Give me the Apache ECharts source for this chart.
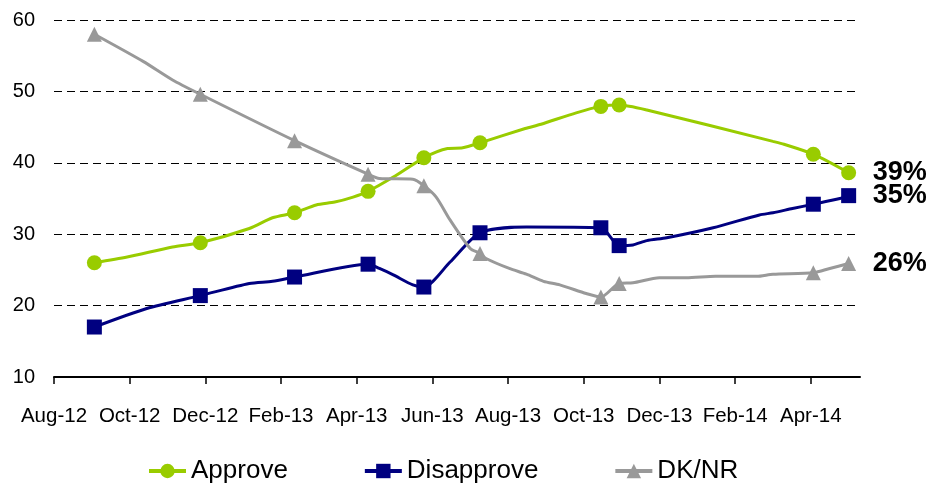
<!DOCTYPE html>
<html>
<head>
<meta charset="utf-8">
<script src="https://cdn.jsdelivr.net/npm/echarts@6/dist/echarts.min.js"></script>
<style>
  html, body { margin: 0; padding: 0; background: #fff; }
  #main { width: 933px; height: 484px; }
</style>
</head>
<body>
<div id="main"></div>
<script>
// x tick labels, one every two months starting Aug-12
const tickLabels = ['Aug-12', 'Oct-12', 'Dec-12', 'Feb-13', 'Apr-13', 'Jun-13',
    'Aug-13', 'Oct-13', 'Dec-13', 'Feb-14', 'Apr-14'];

// poll dates that get a marker
const pollDates = ['2012-09-03', '2012-11-27', '2013-02-11', '2013-04-10', '2013-05-25',
    '2013-07-09', '2013-10-15', '2013-10-30', '2014-04-03', '2014-05-01'];

const approveDates = ['2012-09-03', '2012-09-29', '2012-11-05', '2012-11-27', '2013-01-06',
    '2013-01-25', '2013-02-11', '2013-02-27', '2013-03-14', '2013-03-29', '2013-04-10',
    '2013-04-30', '2013-05-25', '2013-06-13', '2013-06-25', '2013-07-09', '2013-08-15',
    '2013-08-28', '2013-09-25', '2013-10-15', '2013-10-30', '2013-11-21', '2014-03-01',
    '2014-03-10', '2014-04-03', '2014-05-01'];
const approveValues = [26.0, 26.8, 28.2, 28.8, 30.8, 32.3, 33.0, 34.1, 34.5, 35.2, 36.0,
    38.0, 40.7, 42.0, 42.1, 42.8, 44.8, 45.4, 47.0, 47.9, 48.1, 47.4, 43.0, 42.6, 41.2, 38.6];

const disapproveDates = ['2012-09-03', '2012-10-15', '2012-11-27', '2013-01-06', '2013-01-25',
    '2013-02-11', '2013-04-10', '2013-04-19', '2013-04-30', '2013-05-16', '2013-05-25',
    '2013-06-15', '2013-07-09', '2013-08-16', '2013-10-15', '2013-10-30', '2013-11-10',
    '2013-11-21', '2013-12-07', '2014-01-14', '2014-02-19', '2014-03-01', '2014-03-17',
    '2014-04-03', '2014-04-24', '2014-05-01'];
const disapproveValues = [17.0, 19.6, 21.4, 23.1, 23.4, 24.0, 25.8, 25.2, 24.3, 22.9, 22.6,
    26.1, 30.2, 31.0, 30.9, 28.4, 28.5, 29.1, 29.5, 30.9, 32.7, 33.0, 33.6, 34.2, 35.0, 35.4];

const dknrDates = ['2012-09-03', '2012-10-12', '2012-11-05', '2012-11-27', '2013-02-11',
    '2013-04-10', '2013-04-19', '2013-05-16', '2013-05-25', '2013-06-04', '2013-06-15',
    '2013-07-01', '2013-07-09', '2013-07-14', '2013-08-02', '2013-08-16', '2013-08-30',
    '2013-09-12', '2013-10-03', '2013-10-15', '2013-10-30', '2013-11-10', '2013-12-01',
    '2013-12-23', '2014-01-16', '2014-02-17', '2014-03-01', '2014-04-03', '2014-04-16',
    '2014-05-01'];
const dknrValues = [58.0, 54.2, 51.6, 49.6, 43.1, 38.4, 37.8, 37.7, 36.8, 35.2, 32.0,
    28.0, 27.3, 26.6, 25.2, 24.4, 23.4, 22.9, 21.7, 21.2, 23.1, 23.2, 23.9,
    23.9, 24.1, 24.1, 24.4, 24.6, 25.2, 25.9];

const FONT = '"Liberation Sans", Arial, sans-serif';

// months since 1 Aug 2012 (fractional)
function toMonths(s) {
    const [y, m, d] = s.split('-').map(Number);
    const days = new Date(y, m, 0).getDate();
    return (y - 2012) * 12 + (m - 8) + (d - 1) / days;
}

function buildData(dates, values, symbol) {
    return dates.map((d, i) => ({
        value: [toMonths(d), values[i]],
        symbol: pollDates.indexOf(d) >= 0 ? symbol : 'none'
    }));
}

const tickValues = tickLabels.map((_, i) => i * 2);

function makeSeries(name, color, symbol, size, dates, values) {
    return {
        name: name,
        type: 'line',
        smooth: 0.25,
        symbol: symbol,
        symbolSize: size,
        showSymbol: true,
        data: buildData(dates, values, symbol),
        lineStyle: { color: color, width: 3 },
        itemStyle: { color: color },
        endLabel: {
            show: true,
            distance: 24,
            formatter: p => Math.round(p.value[1]) + '%',
            fontFamily: FONT,
            fontSize: 27,
            fontWeight: 'bold',
            color: '#000'
        }
    };
}

const chart = echarts.init(document.getElementById('main'));
chart.setOption({
    animation: false,
    textStyle: { fontFamily: FONT },
    grid: { left: 54, right: 73, top: 20, bottom: 107 },
    legend: {
        left: 142,
        top: 453,
        itemWidth: 37,
        itemHeight: 18,
        itemGap: 75,
        lineStyle: { width: 4 },
        textStyle: { fontFamily: FONT, fontSize: 26, color: '#000' },
        data: ['Approve', 'Disapprove', 'DK/NR']
    },
    xAxis: {
        type: 'value',
        min: 0,
        max: 21.3,
        axisLine: { show: true, lineStyle: { color: '#000', width: 2 } },
        axisTick: {
            show: true, length: 7, customValues: tickValues,
            lineStyle: { color: '#000', width: 1.5 }
        },
        axisLabel: {
            customValues: tickValues,
            margin: 29,
            fontFamily: FONT,
            fontSize: 20.5,
            color: '#000',
            formatter: v => tickLabels[Math.round(v / 2)] || ''
        },
        splitLine: { show: false }
    },
    yAxis: {
        type: 'value',
        min: 10,
        max: 60,
        interval: 10,
        axisLine: { show: false },
        axisTick: { show: false },
        axisLabel: { margin: 19, fontFamily: FONT, fontSize: 20, color: '#000' },
        splitLine: { lineStyle: { color: '#000', width: 1, type: [8, 5] } }
    },
    series: [
        makeSeries('Approve', '#99CC00', 'circle', 15, approveDates, approveValues),
        makeSeries('Disapprove', '#000080', 'rect', 15, disapproveDates, disapproveValues),
        makeSeries('DK/NR', '#999999', 'triangle', 15, dknrDates, dknrValues)
    ]
});
</script>
</body>
</html>
